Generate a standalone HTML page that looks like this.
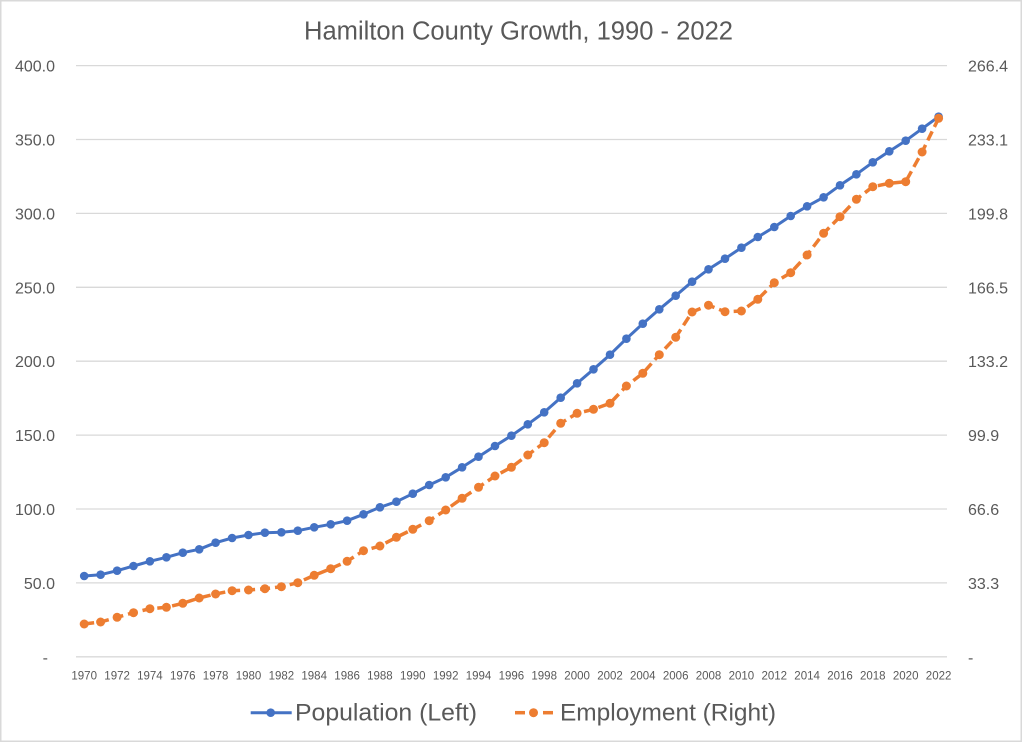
<!DOCTYPE html>
<html>
<head>
<meta charset="utf-8">
<style>
  html, body { margin:0; padding:0; background:#ffffff; }
  svg { display:block; }
  text { font-family: "Liberation Sans", "DejaVu Sans", sans-serif; fill:#595959; }
</style>
</head>
<body>
<svg width="1023" height="743" viewBox="0 0 1023 743" xmlns="http://www.w3.org/2000/svg">
  <defs>
    <marker id="mb" markerWidth="12" markerHeight="12" refX="6" refY="6" markerUnits="userSpaceOnUse">
      <circle cx="6" cy="6" r="4.3" fill="#4472C4"/>
    </marker>
    <marker id="mo" markerWidth="12" markerHeight="12" refX="6" refY="6" markerUnits="userSpaceOnUse">
      <circle cx="6" cy="6" r="4.5" fill="#ED7D31"/>
    </marker>
  </defs>
  <rect x="0" y="0" width="1023" height="743" fill="#ffffff"/>
  <rect x="0.75" y="0.75" width="1020.5" height="740.5" fill="none" stroke="#d9d9d9" stroke-width="1.5"/>

  <!-- title -->
  <text x="304" y="39.3" font-size="25.5" textLength="429" lengthAdjust="spacingAndGlyphs">Hamilton County Growth, 1990 - 2022</text>

  <!-- gridlines -->
  <g stroke="#d9d9d9" stroke-width="1.3">
    <line x1="76" y1="65.6" x2="947" y2="65.6"/>
    <line x1="76" y1="139.5" x2="947" y2="139.5"/>
    <line x1="76" y1="213.4" x2="947" y2="213.4"/>
    <line x1="76" y1="287.3" x2="947" y2="287.3"/>
    <line x1="76" y1="361.2" x2="947" y2="361.2"/>
    <line x1="76" y1="435.1" x2="947" y2="435.1"/>
    <line x1="76" y1="509.0" x2="947" y2="509.0"/>
    <line x1="76" y1="582.9" x2="947" y2="582.9"/>
    <line x1="76" y1="656.8" x2="947" y2="656.8"/>
  </g>

  <!-- left axis labels -->
  <g font-size="16" text-anchor="end">
    <text x="55" y="71.6">400.0</text>
    <text x="55" y="145.5">350.0</text>
    <text x="55" y="219.4">300.0</text>
    <text x="55" y="293.3">250.0</text>
    <text x="55" y="367.2">200.0</text>
    <text x="55" y="441.1">150.0</text>
    <text x="55" y="515.0">100.0</text>
    <text x="55" y="588.9">50.0</text>
    <text x="48" y="662.8">-</text>
  </g>

  <!-- right axis labels -->
  <g font-size="16" text-anchor="start">
    <text x="968" y="71.6">266.4</text>
    <text x="968" y="145.5">233.1</text>
    <text x="968" y="219.4">199.8</text>
    <text x="968" y="293.3">166.5</text>
    <text x="968" y="367.2">133.2</text>
    <text x="968" y="441.1">99.9</text>
    <text x="968" y="515.0">66.6</text>
    <text x="968" y="588.9">33.3</text>
    <text x="968" y="662.8">-</text>
  </g>

  <!-- x axis labels -->
  <g font-size="11.5" text-anchor="middle">
    <text x="84.2" y="679.3">1970</text>
    <text x="117.1" y="679.3">1972</text>
    <text x="149.9" y="679.3">1974</text>
    <text x="182.8" y="679.3">1976</text>
    <text x="215.6" y="679.3">1978</text>
    <text x="248.5" y="679.3">1980</text>
    <text x="281.4" y="679.3">1982</text>
    <text x="314.2" y="679.3">1984</text>
    <text x="347.1" y="679.3">1986</text>
    <text x="379.9" y="679.3">1988</text>
    <text x="412.8" y="679.3">1990</text>
    <text x="445.7" y="679.3">1992</text>
    <text x="478.5" y="679.3">1994</text>
    <text x="511.4" y="679.3">1996</text>
    <text x="544.2" y="679.3">1998</text>
    <text x="577.1" y="679.3">2000</text>
    <text x="610.0" y="679.3">2002</text>
    <text x="642.8" y="679.3">2004</text>
    <text x="675.7" y="679.3">2006</text>
    <text x="708.5" y="679.3">2008</text>
    <text x="741.4" y="679.3">2010</text>
    <text x="774.3" y="679.3">2012</text>
    <text x="807.1" y="679.3">2014</text>
    <text x="840.0" y="679.3">2016</text>
    <text x="872.8" y="679.3">2018</text>
    <text x="905.7" y="679.3">2020</text>
    <text x="938.6" y="679.3">2022</text>
  </g>

  <!-- population (left) -->
  <polyline fill="none" stroke="#4472C4" stroke-width="3" stroke-linejoin="round"
    marker-start="url(#mb)" marker-mid="url(#mb)" marker-end="url(#mb)"
    points="84.2,576 100.6,574.7 117.1,570.7 133.5,566 149.9,561.3 166.4,557.3 182.8,552.7 199.2,549.3 215.6,542.7 232.1,538 248.5,535 264.9,532.7 281.4,532.3 297.8,530.7 314.2,527.3 330.7,524.3 347.1,520.7 363.5,514.3 379.9,507.3 396.4,501.7 412.8,493.7 429.2,485 445.7,477.3 462.1,467.3 478.5,456.7 495.0,446 511.4,435.7 527.8,424.3 544.2,412.3 560.7,397.7 577.1,383.3 593.5,369.3 610.0,354.7 626.4,338.7 642.8,323.7 659.3,309.3 675.7,295.7 692.1,281.7 708.5,269.3 725.0,258.7 741.4,247.7 757.8,237 774.3,227 790.7,216 807.1,206.3 823.6,197.3 840.0,185.3 856.4,174.3 872.8,162.3 889.3,151.3 905.7,140.7 922.1,128.7 938.6,116.7"/>

  <!-- employment (right) -->
  <polyline fill="none" stroke="#ED7D31" stroke-width="3.5" stroke-dasharray="10 5" stroke-linejoin="round"
    marker-start="url(#mo)" marker-mid="url(#mo)" marker-end="url(#mo)"
    points="84.2,624 100.6,622 117.1,617.3 133.5,612.7 149.9,608.7 166.4,607.3 182.8,603.3 199.2,598 215.6,594 232.1,590.7 248.5,590 264.9,588.7 281.4,586.7 297.8,582.7 314.2,575.3 330.7,568.7 347.1,561.3 363.5,550.7 379.9,546 396.4,537.3 412.8,529.3 429.2,520.7 445.7,510 462.1,498.3 478.5,487.3 495.0,476 511.4,467.3 527.8,455 544.2,442.7 560.7,423.3 577.1,413.3 593.5,409.3 610.0,403.3 626.4,386 642.8,373.3 659.3,354.7 675.7,337.3 692.1,312 708.5,305.2 725.0,311.7 741.4,311 757.8,299.3 774.3,282.7 790.7,272.7 807.1,255 823.6,233.3 840.0,216.7 856.4,199.3 872.8,186.7 889.3,183.3 905.7,181.7 922.1,152 938.6,118.3"/>

  <!-- legend -->
  <line x1="250.7" y1="712.7" x2="291.7" y2="712.7" stroke="#4472C4" stroke-width="3"/>
  <circle cx="270.7" cy="712.7" r="4.3" fill="#4472C4"/>
  <text x="295" y="720.3" font-size="24" textLength="182" lengthAdjust="spacingAndGlyphs">Population (Left)</text>

  <line x1="515" y1="712.7" x2="525" y2="712.7" stroke="#ED7D31" stroke-width="3.5"/>
  <line x1="543" y1="712.7" x2="553" y2="712.7" stroke="#ED7D31" stroke-width="3.5"/>
  <circle cx="533.5" cy="712.7" r="4.5" fill="#ED7D31"/>
  <text x="560" y="720.3" font-size="24" textLength="216" lengthAdjust="spacingAndGlyphs">Employment (Right)</text>
</svg>
</body>
</html>
